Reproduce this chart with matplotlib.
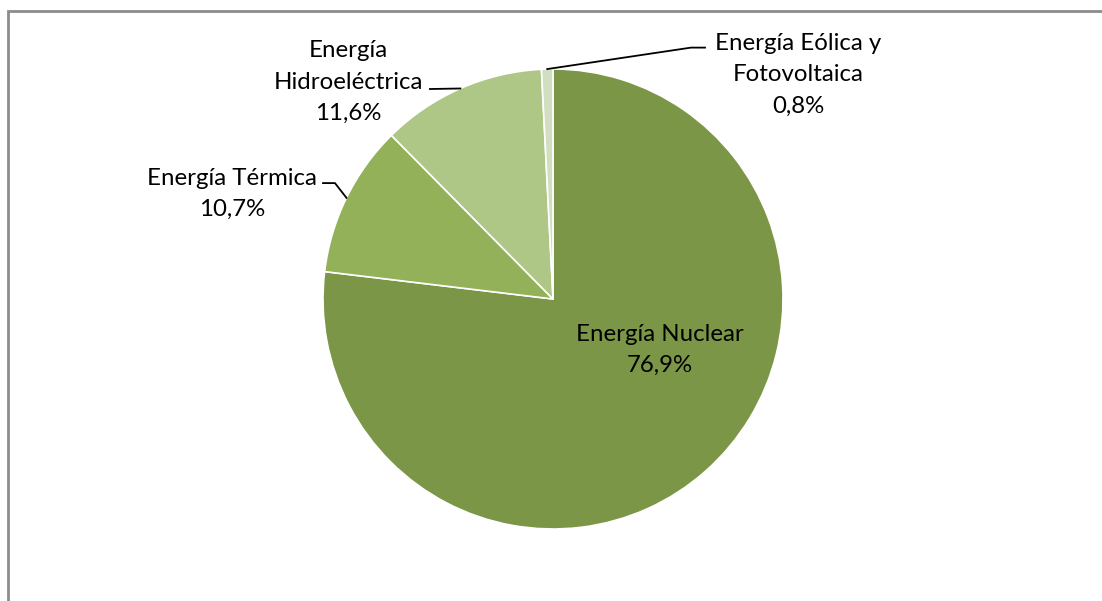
import numpy as np
import matplotlib.pyplot as plt
from matplotlib.patches import Rectangle

labels = ['Energía Nuclear', 'Energía Térmica', 'Energía\nHidroeléctrica', 'Energía Eólica y\nFotovoltaica']
values = [76.9, 10.7, 11.6, 0.8]
pct_text = ['76,9%', '10,7%', '11,6%', '0,8%']
colors = ['#7B9646', '#93B159', '#AEC686', '#D2DEC2']

plt.rcParams['font.family'] = ['Lato', 'DejaVu Sans']

fig = plt.figure(figsize=(11.02, 6.01), dpi=100)
fig.patch.set_facecolor('white')

# chart frame (runs off the right and bottom edges)
fig.add_artist(Rectangle((8 / 1102, -0.05), 1.1, 1 - 11 / 601 + 0.05,
                         transform=fig.transFigure, fill=False,
                         edgecolor='#8c8c8c', lw=2))

cx, cy, r = 553, 299, 230
ax = fig.add_axes([(cx - r) / 1102, 1 - (cy + r) / 601, 2 * r / 1102, 2 * r / 601])
wedges, _ = ax.pie(values, colors=colors, startangle=90, counterclock=False,
                   wedgeprops=dict(edgecolor='white', linewidth=1.2))
ax.set_xlim(-1, 1)
ax.set_ylim(-1, 1)
ax.set_aspect('equal')
ax.set_clip_on(False)

fs = 17.3
# label centres and leader elbows (data units, radius = 1)
label_pos = [(0.465, -0.222), (-1.396, 0.457), (-0.891, 0.943), (1.065, 0.974)]
leaders = [None,
           [(-0.948, 0.504), (-1.0, 0.504)],
           [(-0.535, 0.913)],
           [(0.60, 1.093), (0.661, 1.093)]]

for w, lab, pct, pos, ld in zip(wedges, labels, pct_text, label_pos, leaders):
    ax.text(pos[0], pos[1], lab + '\n' + pct, ha='center', va='center',
            fontsize=fs, color='black', linespacing=1.6, clip_on=False)
    if ld is not None:
        mid = np.deg2rad((w.theta1 + w.theta2) / 2)
        pts = [(np.cos(mid), np.sin(mid))] + ld
        xs, ys = zip(*pts)
        ax.plot(xs, ys, color='black', lw=1.3, clip_on=False)

fig.savefig('out.png', dpi=100, facecolor='white')
